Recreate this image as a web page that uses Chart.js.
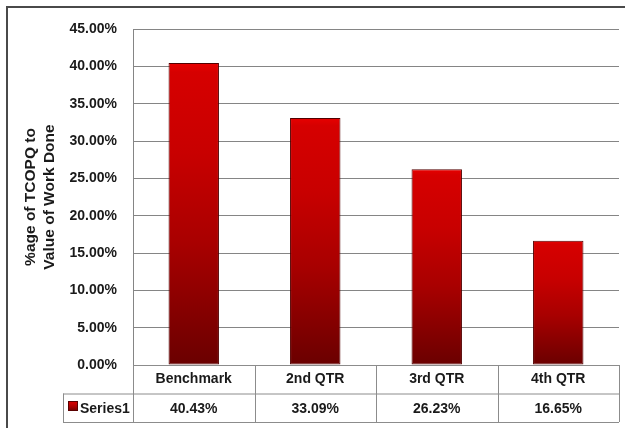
<!DOCTYPE html>
<html>
<head>
<meta charset="utf-8">
<script src="https://cdn.jsdelivr.net/npm/chart.js@4"></script>
<style>
  html, body { margin: 0; padding: 0; background: #fff; }
  #wrap { width: 625px; height: 428px; position: relative; }
</style>
</head>
<body>
<div id="wrap"><canvas id="chart"></canvas></div>
<script>
// chart data
const categories = ["Benchmark", "2nd QTR", "3rd QTR", "4th QTR"];
const seriesName = "Series1";
const values = [40.43, 33.09, 26.23, 16.65];
const yMin = 0, yMax = 45, yStep = 5;
const axisTitle = ["%age of TCOPQ to", "Value of Work Done"];

const FONT = "'Liberation Sans', Arial, sans-serif";
const INK = "#1a1a1a";
const GRID = "#858585";
const TABLE = "#8c8c8c";
const pct = (v) => `${v.toFixed(2)}%`;

Chart.defaults.font.family = FONT;
Chart.defaults.color = INK;

function barGradient(ctx, top, bottom) {
  const g = ctx.createLinearGradient(0, top, 0, bottom);
  g.addColorStop(0, "#e80000");
  g.addColorStop(0.03, "#d60000");
  g.addColorStop(0.3, "#c80000");
  g.addColorStop(0.6, "#a80000");
  g.addColorStop(1, "#6a0000");
  return g;
}

// data table under the plot + outer frame
const tablePlugin = {
  id: "dataTable",
  afterDraw(chart) {
    const { ctx } = chart;
    const xs = chart.scales.x;
    const n = categories.length;
    const top = xs.top;
    const rowH = 28.5;
    const row2 = top + rowH;
    const row3 = row2 + rowH;
    const keyLeft = 63;
    const colW = (xs.right - xs.left) / n;

    ctx.save();
    ctx.strokeStyle = TABLE;
    ctx.lineWidth = 1;
    ctx.beginPath();
    ctx.moveTo(keyLeft, row2 + 0.5); ctx.lineTo(xs.right, row2 + 0.5);
    ctx.moveTo(keyLeft, row3 + 0.5); ctx.lineTo(xs.right, row3 + 0.5);
    ctx.moveTo(keyLeft + 0.5, row2); ctx.lineTo(keyLeft + 0.5, row3);
    for (let i = 0; i <= n; i++) {
      const x = Math.round(xs.left + i * colW) + 0.5;
      ctx.moveTo(x, top); ctx.lineTo(x, row3);
    }
    ctx.stroke();

    ctx.font = `bold 14px ${FONT}`;
    ctx.fillStyle = INK;
    ctx.textAlign = "center";
    ctx.textBaseline = "middle";
    values.forEach((v, i) => {
      ctx.fillText(pct(v), xs.getPixelForValue(i), (row2 + row3) / 2 + 1);
    });

    // legend key
    const kx = 68, ky = 401, ks = 10;
    ctx.fillStyle = barGradient(ctx, ky, ky + ks);
    ctx.fillRect(kx, ky, ks, ks);
    ctx.strokeStyle = "#5a0000";
    ctx.strokeRect(kx + 0.5, ky + 0.5, ks - 1, ks - 1);
    ctx.fillStyle = INK;
    ctx.textAlign = "left";
    ctx.fillText(seriesName, kx + ks + 2, (row2 + row3) / 2 + 1);

    // outer frame
    ctx.strokeStyle = "#4a4a4a";
    ctx.lineWidth = 2;
    ctx.strokeRect(7, 7, 700, 500);
    ctx.restore();
  },
};

new Chart(document.getElementById("chart"), {
  type: "bar",
  data: {
    labels: categories,
    datasets: [{
      label: seriesName,
      data: values,
      backgroundColor: (c) => {
        const { chart, parsed } = c;
        const ys = chart.scales.y;
        if (!ys || !parsed) return "#b00000";
        const t = ys.getPixelForValue(parsed.y);
        const b = ys.getPixelForValue(0);
        if (!Number.isFinite(t) || !Number.isFinite(b) || t === b) return "#b00000";
        return barGradient(chart.ctx, t, b);
      },
      borderColor: "#520000",
      borderWidth: 1,
      borderSkipped: false,
      categoryPercentage: 1,
      barPercentage: 0.415,
    }],
  },
  options: {
    responsive: true,
    maintainAspectRatio: false,
    animation: false,
    layout: { padding: { left: 0, top: 29, right: 6, bottom: 0 } },
    plugins: {
      legend: { display: false },
      tooltip: { enabled: false },
    },
    scales: {
      x: {
        afterFit: (s) => { s.height = 63; },
        ticks: { color: INK, font: { size: 14, weight: "bold" }, padding: 6 },
        grid: { display: false, drawTicks: false },
        border: { display: true, color: TABLE },
      },
      y: {
        min: yMin,
        max: yMax,
        afterFit: (s) => { s.width = 133; },
        ticks: { stepSize: yStep, color: INK, font: { size: 14, weight: "bold" }, padding: 16, callback: (v) => pct(v) },
        grid: { color: GRID, drawTicks: false },
        border: { display: true, color: GRID },
        title: {
          display: true,
          text: axisTitle,
          color: INK,
          font: { size: 15.5, weight: "bold", lineHeight: 1.25 },
          padding: { top: 21, bottom: 0 },
        },
      },
    },
  },
  plugins: [tablePlugin],
});
</script>
</body>
</html>
